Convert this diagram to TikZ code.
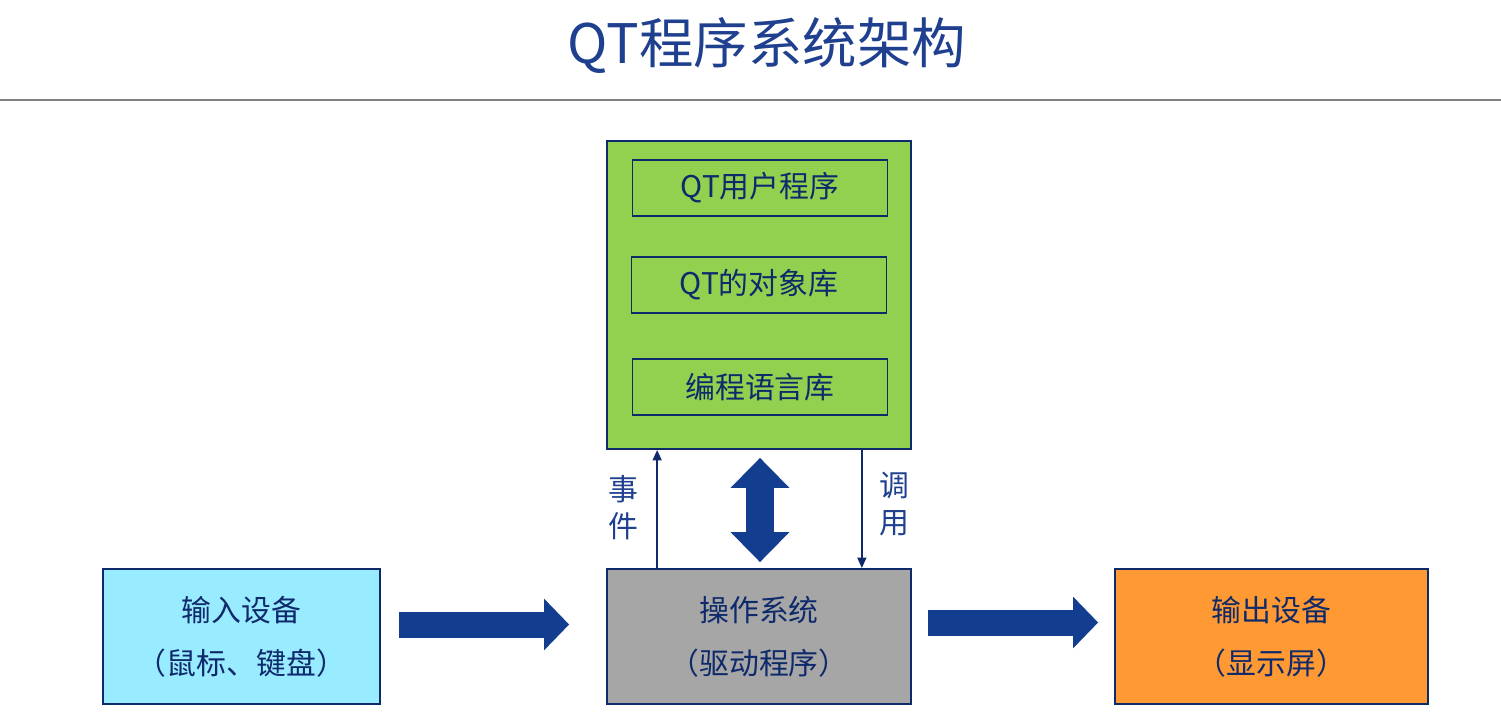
\documentclass[tikz,border=0pt]{standalone}
\usepackage{fontspec}
\setmainfont{Noto Sans CJK SC}
\usetikzlibrary{calc, positioning, arrows.meta}
\definecolor{titleblue}{HTML}{1F3F8F}
\definecolor{edgeblue}{HTML}{0F2A6B}
\definecolor{arrowblue}{HTML}{133E8F}
\definecolor{appgreen}{HTML}{92D050}
\definecolor{incyan}{HTML}{99EBFF}
\definecolor{osgray}{HTML}{A6A6A6}
\definecolor{outorange}{HTML}{FF9933}
\tikzset{
    boxnode/.style = {draw=edgeblue, line width=1pt, rectangle, inner sep=0em, align=center,
      text=edgeblue, font=\fontsize{17}{30}\selectfont},
    libnode/.style = {boxnode, minimum width=5.1cm, minimum height=1.12cm},
    labelnode/.style = {text=titleblue, align=center, font=\fontsize{17}{21}\selectfont},
    connect/.style = {edgeblue, line width=1.2pt, -{Triangle[length=6pt, width=5pt]}},
    blockarrow/.style = {arrowblue, line width=0.52cm, -{Triangle[length=0.5cm, width=1cm]}},
    bothway/.style = {arrowblue, line width=0.56cm, {Triangle[length=0.6cm, width=1.14cm]}-{Triangle[length=0.6cm, width=1.14cm]}}
}
\begin{document}
\begin{tikzpicture}[x=0.02cm, y=-0.02cm]
    \useasboundingbox (0,0) rectangle (1501,717);
    \node [name=title, text=titleblue, font=\fontsize{31}{36}\selectfont] at (767,45) {QT程序系统架构};
    \draw [gray, line width=0.8pt] (0,100) -- (1501,100);

    % application side
    \node [name=app, boxnode, fill=appgreen, minimum width=6.08cm, minimum height=6.16cm] at (759,295) {};
    \node [name=user, libnode] at (760,188) {QT用户程序};
    \node [name=objlib, libnode] at (759,285) {QT的对象库};
    \node [name=langlib, libnode] at (760,387) {编程语言库};

    % bottom row
    \node [name=input, boxnode, fill=incyan, minimum width=5.54cm, minimum height=2.7cm] at (241.5,636.5) {输入设备\\（鼠标、键盘）};
    \node [name=os, boxnode, fill=osgray, minimum width=6.08cm, minimum height=2.7cm] at (759,636.5) {操作系统\\（驱动程序）};
    \node [name=output, boxnode, fill=outorange, minimum width=6.26cm, minimum height=2.7cm] at (1271.5,636.5) {输出设备\\（显示屏）};

    % connectors
    \draw [blockarrow] ($(input.east)+(18,-12)$) -- ($(os.west)+(-37,-12)$);
    \draw [blockarrow] ($(os.east)+(16,-14)$) -- ($(output.west)+(-16,-14)$);
    \draw [bothway] ($(app.south)+(1,8)$) -- ($(os.north)+(1,-6)$);
    \draw [connect] ($(os.north west)+(51,0)$) -- ($(app.south west)+(51,0)$);
    \draw [connect] ($(app.south east)+(-50,0)$) -- ($(os.north east)+(-50,0)$);
    \node [name=event, labelnode] at (623,508) {事\\件};
    \node [name=call, labelnode] at (894,504) {调\\用};
\end{tikzpicture}
\end{document}
